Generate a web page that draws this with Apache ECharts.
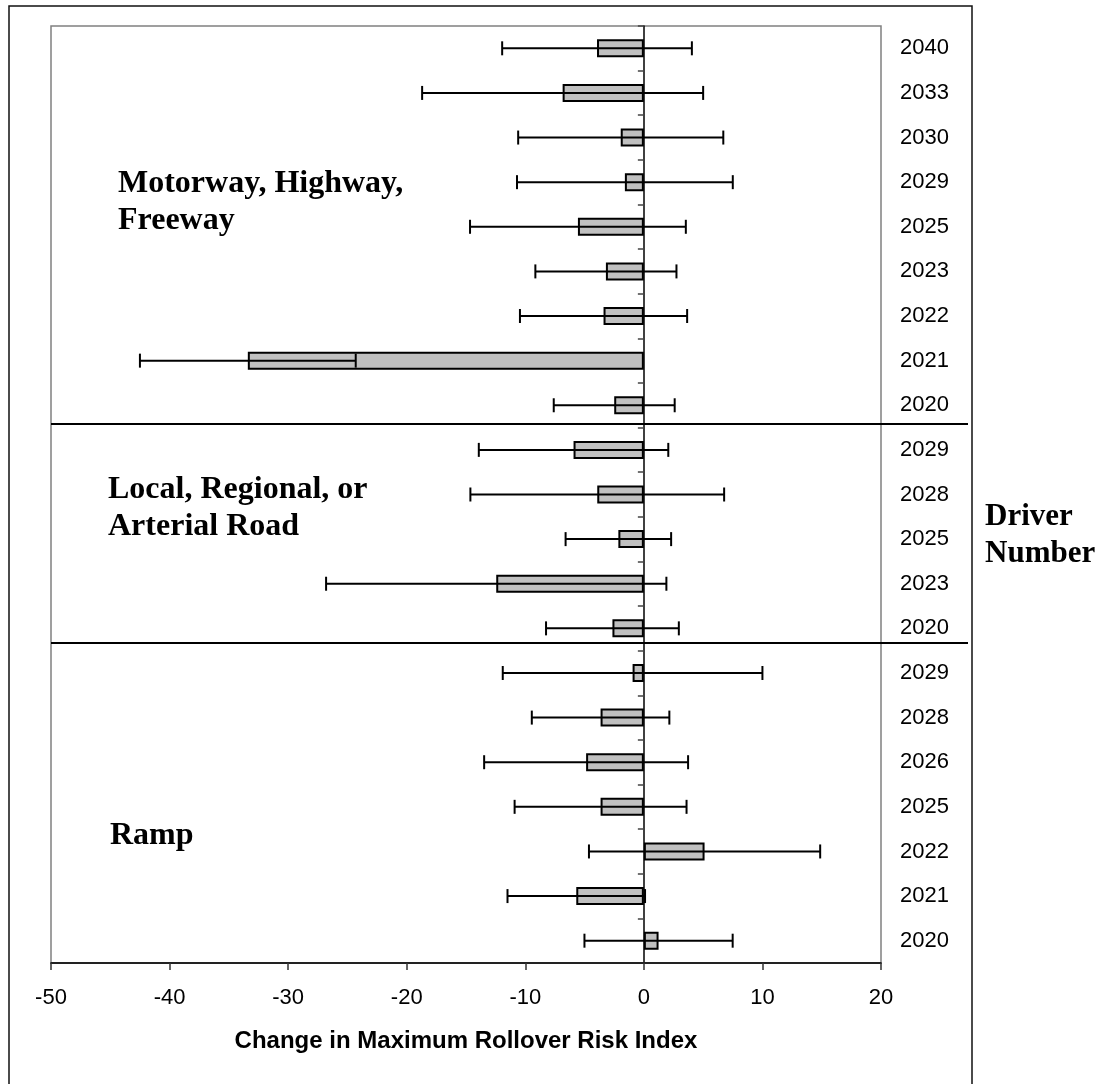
<!DOCTYPE html>
<html>
<head>
<meta charset="utf-8">
<script src="https://cdn.jsdelivr.net/npm/echarts@6/dist/echarts.min.js"></script>
<style>
  html, body { margin: 0; padding: 0; background: #fff; }
  #chart { width: 1109px; height: 1084px; }
</style>
</head>
<body>
<div id="chart"></div>
<script>
// Driver numbers, listed top to bottom (motorway, local road, ramp groups)
const driverLabels = [
  '2040', '2033', '2030', '2029', '2025', '2023', '2022', '2021', '2020',
  '2029', '2028', '2025', '2023', '2020',
  '2029', '2028', '2026', '2025', '2022', '2021', '2020'
];

// Mean change in maximum rollover risk index per driver
const meanChange = [
  -3.95, -6.85, -1.95, -1.6, -5.56, -3.2, -3.4, -33.4, -2.5,
  -5.93, -3.93, -2.15, -12.45, -2.65,
  -0.95, -3.65, -4.87, -3.65, 5.12, -5.7, 1.24
];

// Half-width of the confidence interval around each mean
const ciHalfWidth = [
  8.0, 11.85, 8.65, 9.1, 9.1, 5.95, 7.05, 9.1, 5.1,
  7.99, 10.7, 4.45, 14.35, 5.6,
  10.95, 5.8, 8.6, 7.25, 9.75, 5.8, 6.25
];

// Value axis ticks
const xTicks = [-50, -40, -30, -20, -10, 0, 10, 20];

const groupTitles = [
  ['Motorway, Highway,', 'Freeway'],
  ['Local, Regional, or', 'Arterial Road'],
  ['Ramp']
];
const sideTitle = ['Driver', 'Number'];

const errorData = meanChange.map((m, i) => [i, m - ciHalfWidth[i], m + ciHalfWidth[i]]);
const catKeys = driverLabels.map((_, i) => String(i));

const chart = echarts.init(document.getElementById('chart'));

const serif = 'Liberation Serif';
const sans = 'Liberation Sans';

function titleText(lines, x, y0, step, size) {
  return lines.map((t, k) => ({
    type: 'text',
    left: x,
    top: y0 + k * step,
    z: 20,
    style: { text: t, font: 'bold ' + size + 'px "' + serif + '"', fill: '#000' }
  }));
}

chart.setOption({
  animation: false,
  backgroundColor: '#fff',
  grid: {
    left: 51, right: 228, top: 26, bottom: 121,
    show: false
  },
  xAxis: {
    type: 'value',
    min: xTicks[0],
    max: xTicks[xTicks.length - 1],
    interval: 10,
    z: 5,
    splitLine: { show: false },
    axisLine: { show: true, onZero: false, lineStyle: { color: '#222', width: 2 } },
    axisTick: { show: true, length: 7, lineStyle: { color: '#333', width: 1.5 } },
    axisLabel: { color: '#000', fontFamily: sans, fontSize: 22, margin: 24 },
    name: 'Change in Maximum Rollover Risk Index',
    nameLocation: 'middle',
    nameGap: 66,
    nameTextStyle: { color: '#000', fontFamily: sans, fontWeight: 'bold', fontSize: 24 }
  },
  yAxis: [
    {
      type: 'category',
      data: catKeys,
      inverse: true,
      z: 4,
      axisLine: { show: true, onZero: true, lineStyle: { color: '#000', width: 1.5 } },
      axisTick: { show: true, inside: false, length: 6, lineStyle: { color: '#444', width: 1.5 } },
      axisLabel: { show: false },
      splitLine: { show: false }
    },
    {
      type: 'category',
      data: catKeys,
      inverse: true,
      position: 'right',
      axisLine: { show: false },
      axisTick: { show: false },
      axisLabel: {
        show: true, color: '#000', fontFamily: sans, fontSize: 22, margin: 19,
        formatter: (v, i) => driverLabels[i]
      },
      splitLine: { show: false }
    }
  ],
  series: [
    {
      type: 'bar',
      yAxisIndex: 0,
      data: meanChange,
      barWidth: 18,
      itemStyle: { color: '#c0c0c0', borderColor: '#000', borderWidth: 2 },
      z: 2
    },
    {
      type: 'custom',
      yAxisIndex: 0,
      data: errorData,
      encode: { x: [1, 2], y: 0 },
      z: 3,
      renderItem: function (params, api) {
        const cat = api.value(0);
        const lo = api.coord([api.value(1), cat]);
        const hi = api.coord([api.value(2), cat]);
        const half = 7;
        const st = { stroke: '#000', lineWidth: 2 };
        return {
          type: 'group',
          children: [
            { type: 'line', shape: { x1: lo[0], y1: lo[1], x2: hi[0], y2: hi[1] }, style: st },
            { type: 'line', shape: { x1: lo[0], y1: lo[1] - half, x2: lo[0], y2: lo[1] + half }, style: st },
            { type: 'line', shape: { x1: hi[0], y1: hi[1] - half, x2: hi[0], y2: hi[1] + half }, style: st }
          ]
        };
      }
    }
  ],
  graphic: [
    // frame around the whole figure (open at the bottom edge of the page)
    { type: 'rect', shape: { x: 9, y: 6, width: 963, height: 1100 },
      style: { fill: 'none', stroke: '#111', lineWidth: 1.5 }, z: 0 },
    // grey plot-area frame: left, top and right sides (bottom is the x axis)
    { type: 'polyline', shape: { points: [[51, 962], [51, 26], [881, 26], [881, 962]] },
      style: { fill: 'none', stroke: '#808080', lineWidth: 1.5 }, z: 0 },
    // group separators
    { type: 'line', shape: { x1: 51, y1: 424, x2: 968, y2: 424 },
      style: { stroke: '#000', lineWidth: 2 }, z: 10 },
    { type: 'line', shape: { x1: 51, y1: 643, x2: 968, y2: 643 },
      style: { stroke: '#000', lineWidth: 2 }, z: 10 }
  ]
    .concat(titleText(groupTitles[0], 118, 168, 37, 32))
    .concat(titleText(groupTitles[1], 108, 474, 37, 32))
    .concat(titleText(groupTitles[2], 110, 820, 37, 32))
    .concat(titleText(sideTitle, 985, 501, 37, 31))
});
</script>
</body>
</html>
